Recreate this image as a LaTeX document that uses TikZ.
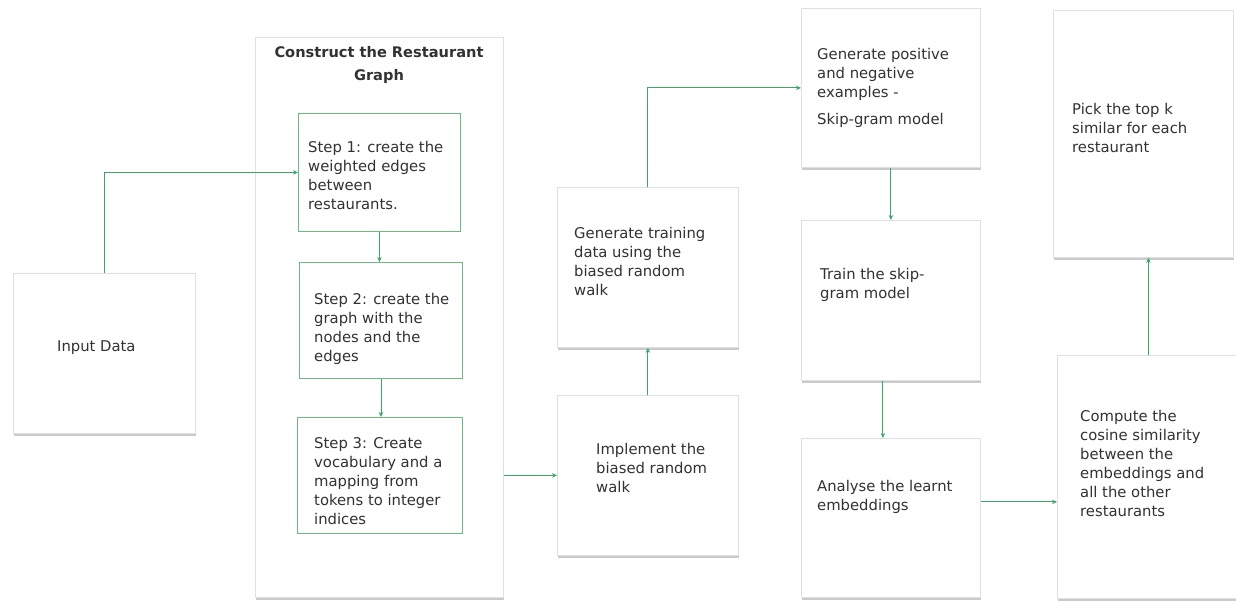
\documentclass[tikz,border=0pt]{standalone}
\usepackage{fontspec}
\setmainfont{DejaVu Sans}
\usetikzlibrary{arrows.meta,shadows}
\definecolor{flowgreen}{RGB}{60,165,105}
\definecolor{stepgreen}{RGB}{110,185,130}
\definecolor{ink}{RGB}{50,50,50}
\begin{document}
\begin{tikzpicture}[x=1pt,y=-1pt,
  card/.style={draw=black!12, fill=white, line width=0.8pt, inner sep=0pt, anchor=north west,
    drop shadow={shadow xshift=0.5pt, shadow yshift=-2.5pt, opacity=0.35, fill=black!60}},
  stepbox/.style={draw=stepgreen, fill=white, line width=0.9pt, inner sep=0pt, anchor=north west},
  txt/.style={anchor=north west, align=left, inner sep=0pt, text=ink,
    font=\fontsize{14.8pt}{19pt}\selectfont},
  flow/.style={draw=flowgreen, line width=0.9pt, -{Stealth[length=5pt,width=4.5pt]}}]
\useasboundingbox (0,0) rectangle (1236,601);

% input
\node[card, minimum width=182pt, minimum height=160pt] (inp) at (13,273) {};
\node[txt, anchor=west] (inpt) at (57,348) {Input Data};

% group: construct the graph
\node[card, minimum width=248pt, minimum height=560pt] (grp) at (255,37) {};
\node[anchor=north, align=center, inner sep=0pt, text=ink,
  font=\bfseries\fontsize{14.6pt}{23pt}\selectfont] (grpt) at (379,46) {Construct the Restaurant\\Graph};

\node[stepbox, minimum width=162pt, minimum height=118pt] (s1) at (298,113) {};
\node[txt] (s1t) at (308,141) {Step 1: create the\\weighted edges\\between\\restaurants.};
\node[stepbox, minimum width=163pt, minimum height=116pt] (s2) at (299,262) {};
\node[txt] (s2t) at (314,293) {Step 2: create the\\graph with the\\nodes and the\\edges};
\node[stepbox, minimum width=165pt, minimum height=116pt] (s3) at (297,417) {};
\node[txt] (s3t) at (314,437) {Step 3: Create\\vocabulary and a\\mapping from\\tokens to integer\\indices};

% random walk
\node[card, minimum width=181pt, minimum height=160pt] (impl) at (557,395) {};
\node[txt] (implt) at (596,443) {Implement the\\biased random\\walk};
\node[card, minimum width=181pt, minimum height=160pt] (gen) at (557,187) {};
\node[txt] (gent) at (574,227) {Generate training\\data using the\\biased random\\walk};

% skip-gram
\node[card, minimum width=179pt, minimum height=159pt] (pos) at (801,8) {};
\node[txt] (post) at (817,48) {Generate positive\\and negative\\examples -\\[8pt]Skip-gram model};
\node[card, minimum width=179pt, minimum height=160pt] (trn) at (801,220) {};
\node[txt] (trnt) at (820,268) {Train the skip-\\gram model};
\node[card, minimum width=179pt, minimum height=159pt] (ana) at (801,438) {};
\node[txt] (anat) at (817,480) {Analyse the learnt\\embeddings};

% similarity
\node[card, minimum width=182pt, minimum height=243pt] (comp) at (1057,355) {};
\node[txt] (compt) at (1080,410) {Compute the\\cosine similarity\\between the\\embeddings and\\all the other\\restaurants};
\node[card, minimum width=180pt, minimum height=247pt] (pick) at (1053,10) {};
\node[txt] (pickt) at (1072,103) {Pick the top k\\similar for each\\restaurant};

% connectors
\draw[flow] (inp.north) |- (s1.west);
\draw[flow] (s1.south) -- (s1.south |- s2.north);
\draw[flow] (s2.south) -- (s2.south |- s3.north);
\draw[flow] (grp.east |- impl.west) -- (impl.west);
\draw[flow] (impl.north) -- (gen.south);
\draw[flow] (gen.north) |- (pos.west);
\draw[flow] (pos.south) -- (trn.north);
\draw[flow] ([xshift=-8pt]trn.south) -- ([xshift=-8pt]ana.north);
\draw[flow] ([yshift=16pt]ana.east) -- ([yshift=16pt]ana.east -| comp.west);
\draw[flow] (comp.north) -- (comp.north |- pick.south);
\end{tikzpicture}
\end{document}
